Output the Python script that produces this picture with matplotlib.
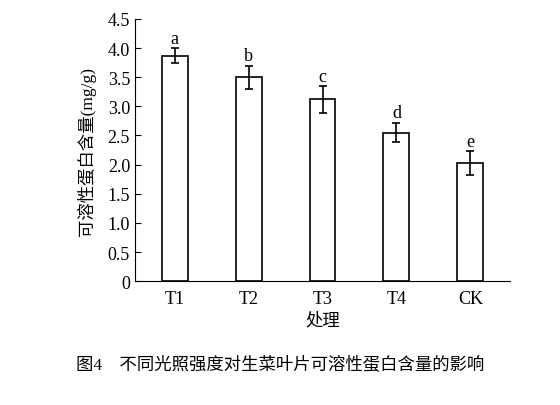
import matplotlib
matplotlib.use('Agg')
import matplotlib.pyplot as plt
import numpy as np

plt.rcParams['font.family'] = ['Liberation Serif', 'Noto Sans CJK SC']

categories = ['T1', 'T2', 'T3', 'T4', 'CK']
values = [3.87, 3.50, 3.12, 2.55, 2.03]
errors = [0.13, 0.20, 0.23, 0.17, 0.20]
letters = ['a', 'b', 'c', 'd', 'e']

fig = plt.figure(figsize=(5.6, 4.06), dpi=100)
ax = fig.add_axes([0.241, 0.305, 0.67, 0.646])
x = np.arange(len(categories))
ax.bar(x, values, width=0.35, color='white', edgecolor='black', linewidth=1.2)
ax.errorbar(x, values, yerr=errors, fmt='none', ecolor='black', elinewidth=1.2, capsize=3, capthick=1.2)
for xi, v, e, l in zip(x, values, errors, letters):
    ax.text(xi, v + e + 0.02, l, ha='center', va='bottom', fontsize=13)

ax.set_xlim(-0.54, 4.54)
ax.set_ylim(0, 4.5)
ax.set_yticks(np.arange(0, 4.51, 0.5))
ax.set_yticklabels(['0'] + [f'{t:.1f}' for t in np.arange(0.5, 4.51, 0.5)])
ax.set_xticks(x)
ax.set_xticklabels(categories)
ax.tick_params(axis='y', direction='in', length=4, labelsize=13)
ax.tick_params(axis='x', length=0, labelsize=13, pad=6)
for s in ['top', 'right']:
    ax.spines[s].set_visible(False)
ax.set_ylabel('可溶性蛋白含量(mg/g)', fontsize=12.5, labelpad=8)
ax.set_xlabel('处理', fontsize=12.5, labelpad=4)
fig.text(0.5, 0.1, '图4　不同光照强度对生菜叶片可溶性蛋白含量的影响', ha='center', va='center', fontsize=12.5)
fig.savefig('out.png', dpi=100)
